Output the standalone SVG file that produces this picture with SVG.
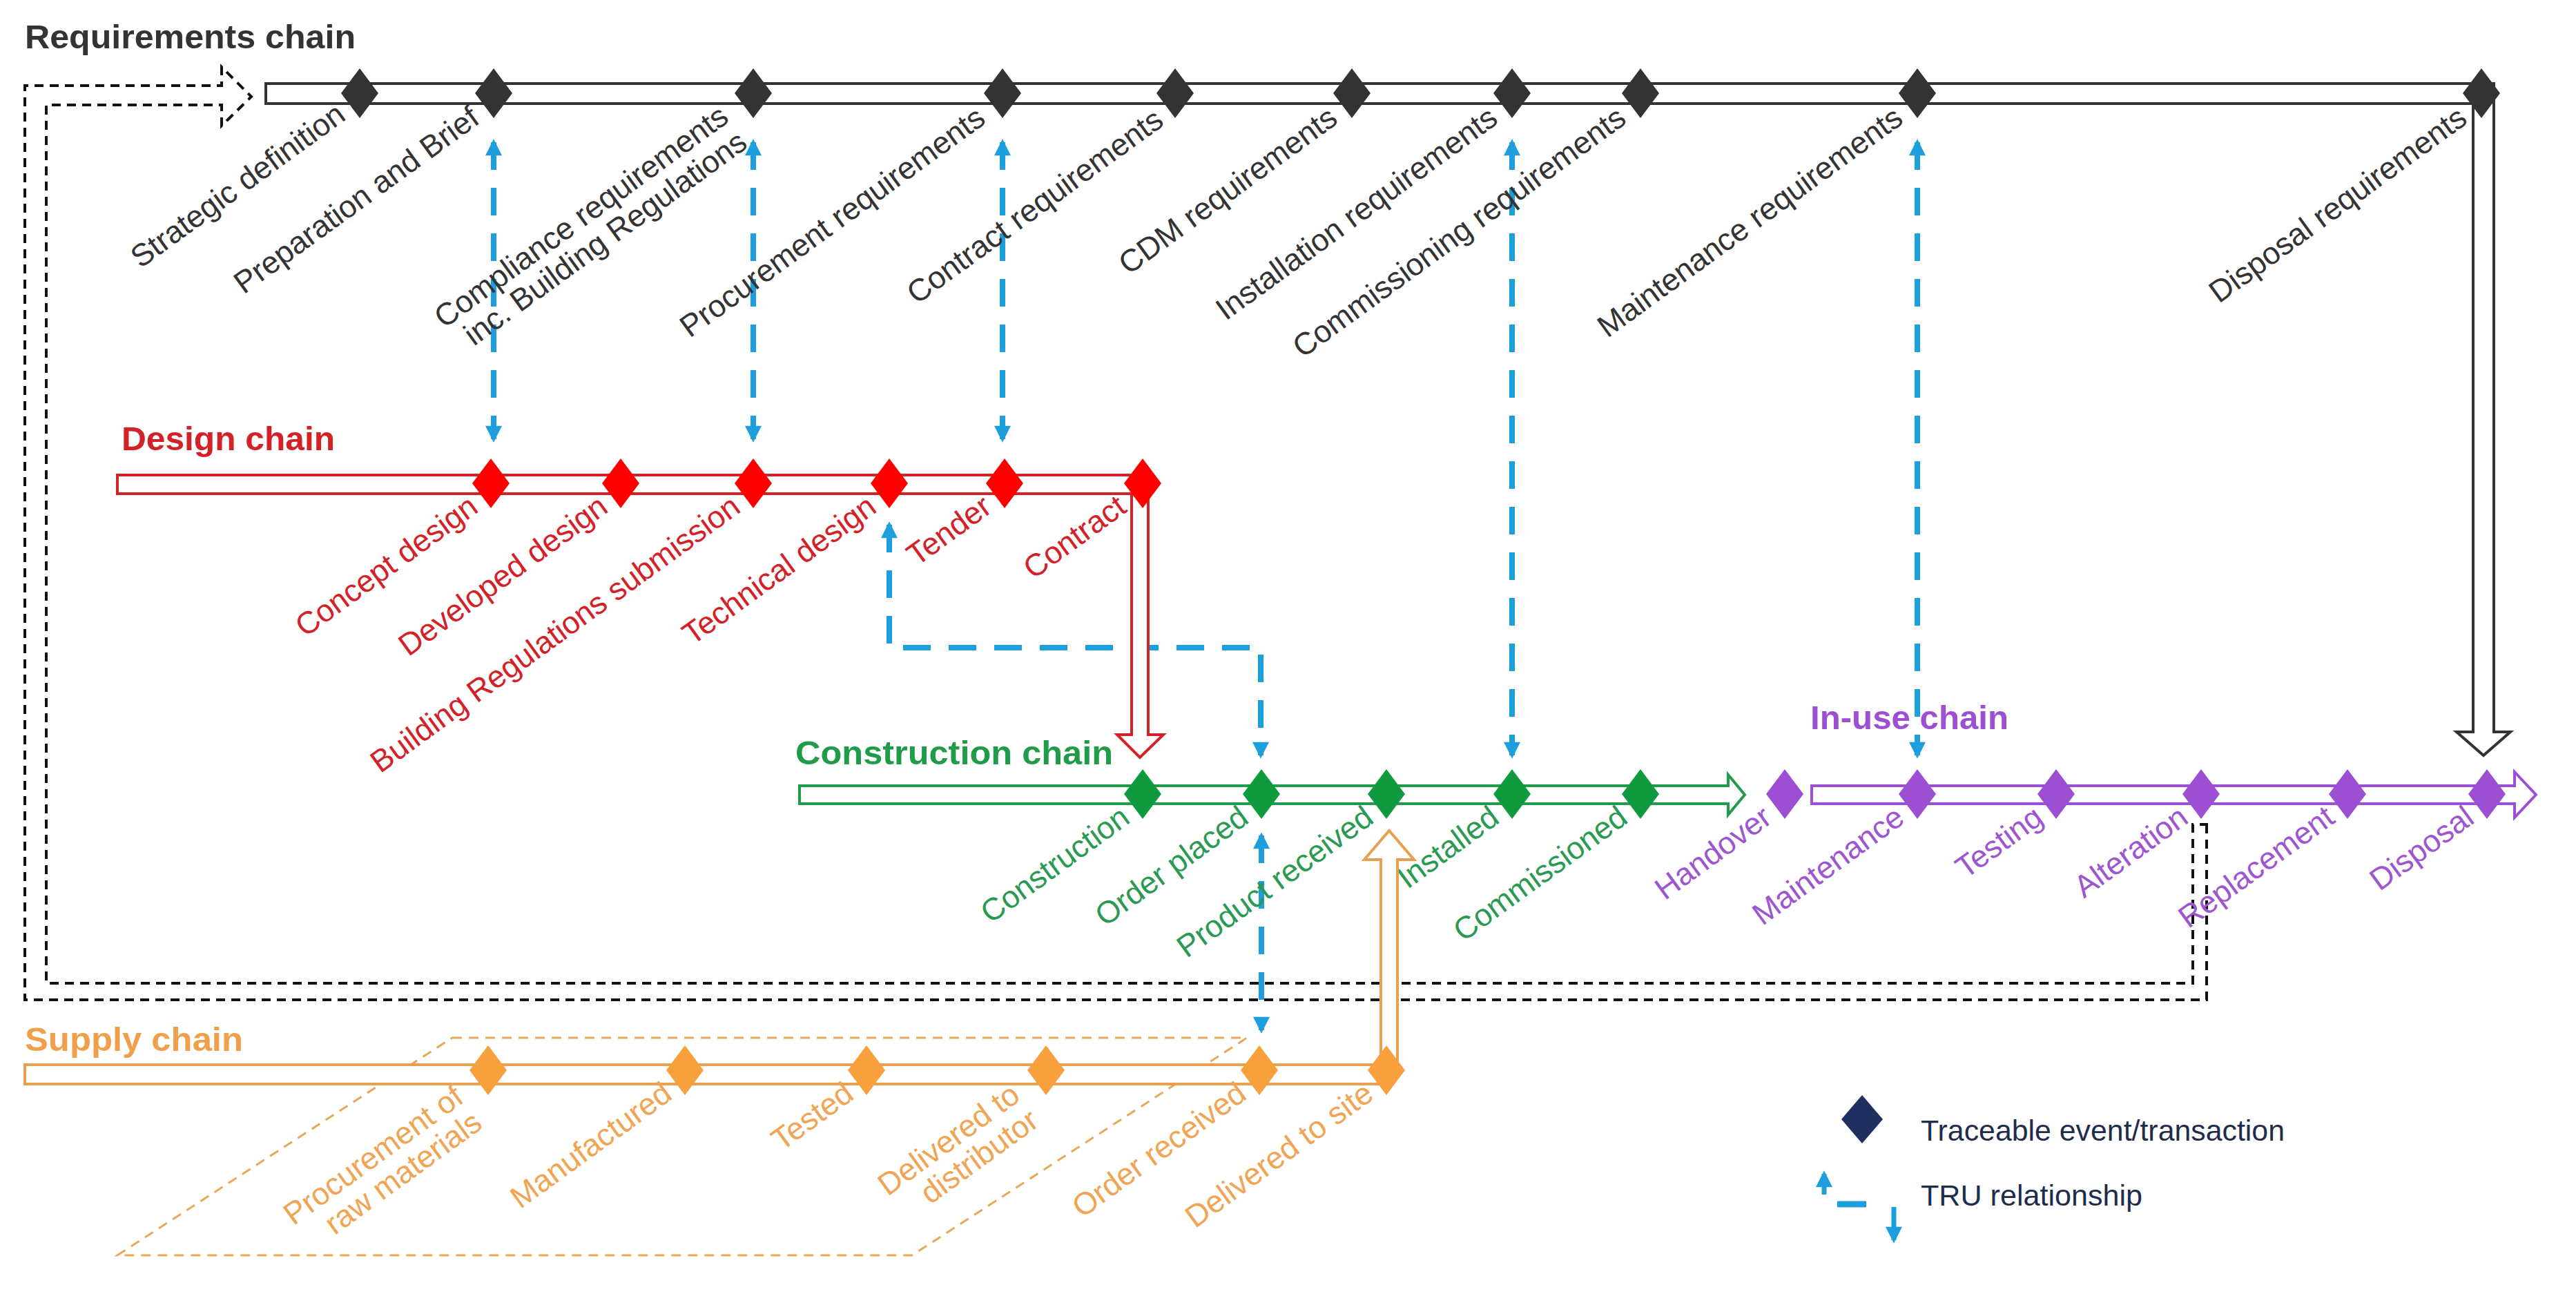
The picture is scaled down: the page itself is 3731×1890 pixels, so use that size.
<svg xmlns="http://www.w3.org/2000/svg" width="3731" height="1890" viewBox="0 0 3731 1890">
<style>
.t{font-family:"Liberation Sans Narrow","Liberation Sans",Arial,sans-serif;font-weight:bold;font-size:48px}
.l{font-family:"Liberation Sans",Arial,sans-serif;font-size:45px;text-anchor:end}
.k{fill:#333;stroke:none}.kt{fill:#333}
.r{fill:#ff0000}.rt{fill:#d42027}
.g{fill:#0f9a3e}.gt{fill:#2a9a52}
.p{fill:#9d4fd3}.pt{fill:#9d55d0}
.o{fill:#f7a03c}.ot{fill:#f0a555}
.tru{stroke:#1c9fdc;stroke-width:8;stroke-dasharray:40 26;fill:none}
</style>
<defs>
<path id="d" d="M0,-36 L27,0 L0,36 L-27,0 Z"/>
<marker id="ah" viewBox="0 0 10 10" refX="8" refY="5" markerWidth="26" markerHeight="24" markerUnits="userSpaceOnUse" orient="auto-start-reverse"><path d="M0,0 L10,5 L0,10 Z" fill="#1c9fdc"/></marker>
</defs>
<rect width="3731" height="1890" fill="#fff"/>
<g id="connectors">
<path d="M3196,1194 V1448 H36 V124 H321 V97 L364,140 L321,182 V152 H67 V1424 H3176 V1194 Z" fill="none" stroke="#111" stroke-width="4" stroke-dasharray="13 9"/>
<path class="tru" d="M715,206 V636" marker-start="url(#ah)" marker-end="url(#ah)"/>
<path class="tru" d="M1091,206 V636" marker-start="url(#ah)" marker-end="url(#ah)"/>
<path class="tru" d="M1452,206 V636" marker-start="url(#ah)" marker-end="url(#ah)"/>
<path class="tru" d="M2190,206 V1094" marker-start="url(#ah)" marker-end="url(#ah)"/>
<path class="tru" d="M2777,206 V1094" marker-start="url(#ah)" marker-end="url(#ah)"/>
<path class="tru" d="M1288,760 V938 H1826 V1094" marker-start="url(#ah)" marker-end="url(#ah)"/>
<path class="tru" d="M1827,1210 V1492" marker-start="url(#ah)" marker-end="url(#ah)"/>
<path d="M655,1503 H1806 L1321,1818 H170 Z" fill="none" stroke="#e8a858" stroke-width="3" stroke-dasharray="14 10"/>
</g>
<g id="requirements">
<text class="t kt" x="36" y="70" textLength="479" lengthAdjust="spacingAndGlyphs">Requirements chain</text>
<path d="M385,121 H3612 V1060 H3636 L3597,1094 L3558,1060 H3582 V150 H385 Z" fill="#fff" stroke="#333" stroke-width="4"/>
<g class="k">
<use href="#d" x="521" y="135"/><use href="#d" x="715" y="135"/><use href="#d" x="1091" y="135"/><use href="#d" x="1452" y="135"/><use href="#d" x="1702" y="135"/><use href="#d" x="1958" y="135"/><use href="#d" x="2190" y="135"/><use href="#d" x="2376" y="135"/><use href="#d" x="2777" y="135"/><use href="#d" x="3594" y="135"/>
</g>
<g class="l kt">
<text transform="translate(503,172) rotate(-36)">Strategic definition</text>
<text transform="translate(697,177) rotate(-36)">Preparation and Brief</text>
<text transform="translate(1058,175) rotate(-36)">Compliance requirements<tspan x="0" dy="46">inc. Building Regulations</tspan></text>
<text transform="translate(1430,177) rotate(-36)">Procurement requirements</text>
<text transform="translate(1688,180) rotate(-36)">Contract requirements</text>
<text transform="translate(1940,177) rotate(-36)">CDM requirements</text>
<text transform="translate(2172,177) rotate(-36)">Installation requirements</text>
<text transform="translate(2358,177) rotate(-36)">Commissioning requirements</text>
<text transform="translate(2759,177) rotate(-36)">Maintenance requirements</text>
<text transform="translate(3576,177) rotate(-36)">Disposal requirements</text>
</g>
</g>
<g id="design">
<text class="t" fill="#d42027" x="176" y="652" textLength="309" lengthAdjust="spacingAndGlyphs">Design chain</text>
<path d="M170,688 H1663 V1064 H1685 L1651,1097 L1618,1064 H1639 V715 H170 Z" fill="#fff" stroke="#d42027" stroke-width="4"/>
<g class="r">
<use href="#d" x="711" y="700"/><use href="#d" x="899" y="700"/><use href="#d" x="1091" y="700"/><use href="#d" x="1288" y="700"/><use href="#d" x="1455" y="700"/><use href="#d" x="1655" y="700"/>
</g>
<g class="l rt">
<text transform="translate(695,740) rotate(-36)">Concept design</text>
<text transform="translate(883,740) rotate(-36)">Developed design</text>
<text transform="translate(1075,740) rotate(-36)">Building Regulations submission</text>
<text transform="translate(1272,740) rotate(-36)">Technical design</text>
<text transform="translate(1439,740) rotate(-36)">Tender</text>
<text transform="translate(1634,740) rotate(-36)">Contract</text>
</g>
</g>
<g id="construction">
<text class="t" fill="#1f9b49" x="1152" y="1107" textLength="460" lengthAdjust="spacingAndGlyphs">Construction chain</text>
<path d="M1158,1138 H2503 V1122 L2527,1151 L2503,1180 V1164 H1158 Z" fill="#fff" stroke="#1f9b49" stroke-width="4"/>
<g class="g">
<use href="#d" x="1655" y="1150"/><use href="#d" x="1827" y="1150"/><use href="#d" x="2008" y="1150"/><use href="#d" x="2190" y="1150"/><use href="#d" x="2376" y="1150"/>
</g>
<g class="l gt">
<text transform="translate(1639,1190) rotate(-36)">Construction</text>
<text transform="translate(1811,1190) rotate(-36)">Order placed</text>
<text transform="translate(1992,1190) rotate(-36)">Product received</text>
<text transform="translate(2174,1190) rotate(-36)">Installed</text>
<text transform="translate(2360,1190) rotate(-36)">Commissioned</text>
</g>
</g>
<g id="inuse">
<text class="t" fill="#9d4fd3" x="2622" y="1056" textLength="287" lengthAdjust="spacingAndGlyphs">In-use chain</text>
<path d="M2624,1138 H3642 V1118 L3673,1151 L3642,1184 V1164 H2624 Z" fill="#fff" stroke="#9d4fd3" stroke-width="4"/>
<g class="p">
<use href="#d" x="2585" y="1150"/><use href="#d" x="2777" y="1150"/><use href="#d" x="2978" y="1150"/><use href="#d" x="3188" y="1150"/><use href="#d" x="3400" y="1150"/><use href="#d" x="3602" y="1150"/>
</g>
<g class="l pt">
<text transform="translate(2569,1190) rotate(-36)">Handover</text>
<text transform="translate(2761,1190) rotate(-36)">Maintenance</text>
<text transform="translate(2962,1190) rotate(-36)">Testing</text>
<text transform="translate(3172,1190) rotate(-36)">Alteration</text>
<text transform="translate(3384,1190) rotate(-36)">Replacement</text>
<text transform="translate(3586,1190) rotate(-36)">Disposal</text>
</g>
</g>
<g id="supply">
<text class="t" fill="#f0a04b" x="36" y="1522" textLength="316" lengthAdjust="spacingAndGlyphs">Supply chain</text>
<path d="M36,1542 H2024 V1245 H2048 L2012,1203 L1976,1245 H2000 V1570 H36 Z" fill="#fff" stroke="#e8a050" stroke-width="4"/>
<g class="o">
<use href="#d" x="707" y="1550"/><use href="#d" x="992" y="1550"/><use href="#d" x="1255" y="1550"/><use href="#d" x="1515" y="1550"/><use href="#d" x="1824" y="1550"/><use href="#d" x="2008" y="1550"/>
</g>
<g class="l ot">
<text transform="translate(674,1595) rotate(-36)">Procurement of<tspan x="0" dy="46">raw materials</tspan></text>
<text transform="translate(976,1590) rotate(-36)">Manufactured</text>
<text transform="translate(1239,1590) rotate(-36)">Tested</text>
<text transform="translate(1480,1592) rotate(-36)">Delivered to<tspan x="0" dy="46">distributor</tspan></text>
<text transform="translate(1808,1590) rotate(-36)">Order received</text>
<text transform="translate(1992,1590) rotate(-36)">Delivered to site</text>
</g>
</g>
<g id="legend">
<path d="M2697,1586 L2727,1621 L2697,1656 L2667,1621 Z" fill="#1f3060"/>
<text x="2782" y="1652" font-family="Liberation Sans Narrow,Liberation Sans,sans-serif" font-size="42" fill="#1f2d4d" textLength="527" lengthAdjust="spacingAndGlyphs">Traceable event/transaction</text>
<path d="M2642,1730 V1700" stroke="#1c9fdc" stroke-width="7" marker-end="url(#ah)"/>
<path d="M2661,1744 H2703" stroke="#1c9fdc" stroke-width="9"/>
<path d="M2743,1748 V1796" stroke="#1c9fdc" stroke-width="7" marker-end="url(#ah)"/>
<text x="2782" y="1746" font-family="Liberation Sans Narrow,Liberation Sans,sans-serif" font-size="42" fill="#1f2d4d" textLength="321" lengthAdjust="spacingAndGlyphs">TRU relationship</text>
</g>
</svg>
